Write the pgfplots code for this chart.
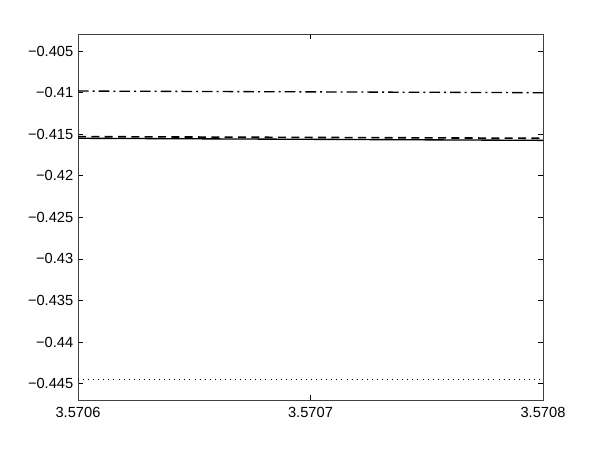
\documentclass[border=0pt]{standalone}
\usepackage{fontspec}
\setmainfont{Liberation Sans}
\usepackage{pgfplots}
\pgfplotsset{compat=1.18}

\begin{document}
\begin{tikzpicture}
\begin{axis}[
  name=ax,
  scale only axis,
  width=348.75pt, height=274.5pt,
  xmin=3.5706, xmax=3.5708,
  ymin=-0.44697, ymax=-0.40296,
  xtick={3.5706,3.5707,3.5708},
  xticklabels={3.5706,3.5707,3.5708},
  ytick={-0.445,-0.44,-0.435,-0.43,-0.425,-0.42,-0.415,-0.41,-0.405},
  yticklabels={−0.445,−0.44,−0.435,−0.43,−0.425,−0.42,−0.415,−0.41,−0.405},
  tick align=inside, major tick length=4pt,
  tick style={black, line width=0.5pt},
  axis line style={line width=0.6pt, black!75},
  ticklabel style={font=\fontsize{11}{13}\selectfont},
  xticklabel style={yshift=-2pt},
  scaled ticks=false,
]
\addplot[black, line width=1pt, dash pattern=on 8pt off 3pt on 1.5pt off 3pt]
  coordinates {(3.5706,-0.40982) (3.5708,-0.41002)};
\addplot[black, line width=1.2pt, dash pattern=on 6pt off 4pt]
  coordinates {(3.5706,-0.41530) (3.5708,-0.41550)};
\addplot[black, line width=1pt]
  coordinates {(3.5706,-0.41550) (3.5708,-0.41575)};
\addplot[black, line width=0.6pt, dash pattern=on 0.6pt off 3.2pt]
  coordinates {(3.5706,-0.44455) (3.5708,-0.44455)};
\end{axis}
\useasboundingbox ([xshift=-58.5pt,yshift=-38.25pt]ax.south west) rectangle ([xshift=42pt,yshift=25.5pt]ax.north east);
\end{tikzpicture}
\end{document}
